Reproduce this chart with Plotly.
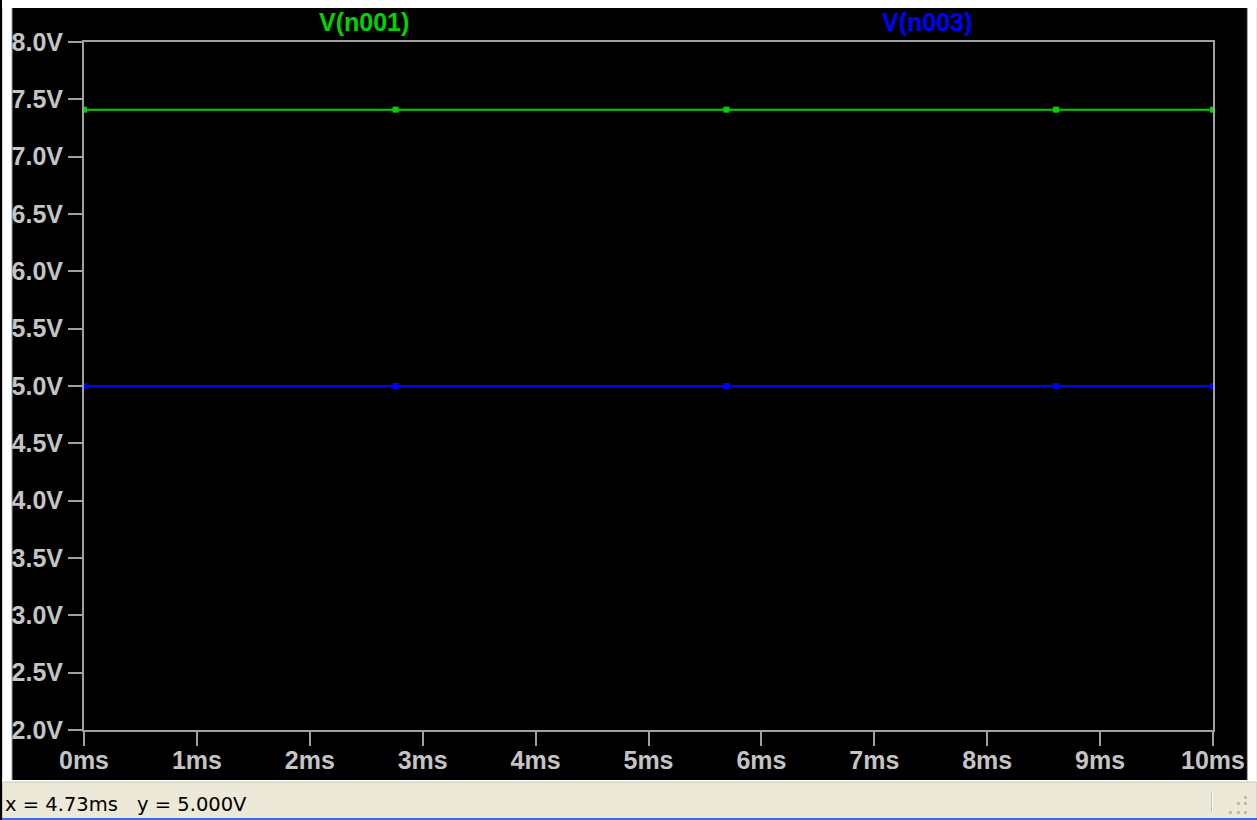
import plotly.graph_objects as go

# Transient simulation results (time in ms, node voltages in V)
t_ms = [0, 2.76, 5.69, 8.61, 10]
v_n001 = [7.41, 7.41, 7.41, 7.41, 7.41]
v_n003 = [5.0, 5.0, 5.0, 5.0, 5.0]

x_ticks = [0, 1, 2, 3, 4, 5, 6, 7, 8, 9, 10]
y_ticks = [2.0, 2.5, 3.0, 3.5, 4.0, 4.5, 5.0, 5.5, 6.0, 6.5, 7.0, 7.5, 8.0]

cursor_x = "x = 4.73ms"
cursor_y = "y = 5.000V"

W, H = 1257, 820
ML, MR, MT, MB = 82, 44, 42, 90
PW, PH = W - ML - MR, H - MT - MB

GREEN = "#00d400"
BLUE = "#0000ff"
AXIS = "#a0a0a0"
LABEL = "#c4c4c4"
FONT = "Liberation Sans"


def px(x):
    return (x - ML) / PW


def py(y):
    return 1 - (y - MT) / PH


fig = go.Figure()
fig.add_trace(go.Scatter(x=t_ms, y=v_n001, mode="lines+markers", name="V(n001)",
                         line=dict(color=GREEN, width=2),
                         marker=dict(symbol="square", size=6, color=GREEN)))
fig.add_trace(go.Scatter(x=t_ms, y=v_n003, mode="lines+markers", name="V(n003)",
                         line=dict(color=BLUE, width=2),
                         marker=dict(symbol="square", size=6, color=BLUE)))

axis_common = dict(showgrid=False, zeroline=False, showline=True, mirror=True,
                   linecolor=AXIS, linewidth=2, ticks="outside", ticklen=14,
                   tickwidth=2, tickcolor=AXIS,
                   tickfont=dict(family=FONT, size=25, color=LABEL, weight="bold"))

fig.update_xaxes(range=[0, 10], tickvals=x_ticks, ticktext=[f"{v}ms" for v in x_ticks],
                 ticklabelstandoff=-7, **axis_common)
fig.update_yaxes(range=[2, 8], tickvals=y_ticks, ticktext=[f"{v:.1f}V" for v in y_ticks],
                 **axis_common)

shapes = [
    # window chrome around the black waveform pane
    dict(type="rect", xref="paper", yref="paper", x0=px(0), x1=px(W), y0=py(0), y1=py(8),
         fillcolor="white", line=dict(width=0), layer="below"),
    dict(type="rect", xref="paper", yref="paper", x0=px(0), x1=px(10), y0=py(0), y1=py(782),
         fillcolor="white", line=dict(width=0), layer="below"),
    dict(type="rect", xref="paper", yref="paper", x0=px(1247), x1=px(W), y0=py(0), y1=py(782),
         fillcolor="white", line=dict(width=0), layer="below"),
    dict(type="line", xref="paper", yref="paper", x0=px(10), x1=px(10), y0=py(8), y1=py(781),
         line=dict(color="#707070", width=1), layer="below"),
    dict(type="line", xref="paper", yref="paper", x0=px(1247.5), x1=px(1247.5), y0=py(8), y1=py(781),
         line=dict(color="#a0a0a0", width=1), layer="below"),
    # status bar
    dict(type="rect", xref="paper", yref="paper", x0=px(0), x1=px(W), y0=py(780), y1=py(818),
         fillcolor="#ece9d8", line=dict(width=0), layer="below"),
    dict(type="line", xref="paper", yref="paper", x0=px(0), x1=px(W), y0=py(780.5), y1=py(780.5),
         line=dict(color="#ffffff", width=1), layer="below"),
    dict(type="line", xref="paper", yref="paper", x0=px(0), x1=px(W), y0=py(782.5), y1=py(782.5),
         line=dict(color="#d8d4c4", width=1), layer="below"),
    dict(type="rect", xref="paper", yref="paper", x0=px(0), x1=px(W), y0=py(818), y1=py(H),
         fillcolor="#3a6ee0", line=dict(width=0), layer="below"),
    dict(type="line", xref="paper", yref="paper", x0=px(1211.5), x1=px(1211.5), y0=py(792), y1=py(813),
         line=dict(color="#c8c4b4", width=1), layer="below"),
    dict(type="line", xref="paper", yref="paper", x0=px(1212.5), x1=px(1212.5), y0=py(792), y1=py(813),
         line=dict(color="#ffffff", width=1), layer="below"),
]

# size grip dots in the status bar corner
for gx, gy in [(1244, 796), (1237, 802), (1244, 802), (1229, 811), (1237, 811), (1244, 811)]:
    shapes.append(dict(type="rect", xref="paper", yref="paper", x0=px(gx), x1=px(gx + 3),
                       y0=py(gy), y1=py(gy + 3), fillcolor="#c0bcac",
                       line=dict(width=0), layer="below"))

annotations = [
    dict(text="V(n001)", xref="paper", yref="paper", x=px(362), y=py(22),
         xanchor="center", yanchor="middle", showarrow=False,
         font=dict(family=FONT, size=25, color=GREEN, weight="bold")),
    dict(text="V(n003)", xref="paper", yref="paper", x=px(926), y=py(22),
         xanchor="center", yanchor="middle", showarrow=False,
         font=dict(family=FONT, size=25, color=BLUE, weight="bold")),
    dict(text=cursor_x, xref="paper", yref="paper", x=px(1), y=py(804),
         xanchor="left", yanchor="middle", showarrow=False,
         font=dict(family="DejaVu Sans", size=19.5, color="#000000")),
    dict(text=cursor_y, xref="paper", yref="paper", x=px(133), y=py(804),
         xanchor="left", yanchor="middle", showarrow=False,
         font=dict(family="DejaVu Sans", size=19.5, color="#000000")),
]

fig.update_layout(
    width=W, height=H,
    margin=dict(l=ML, r=MR, t=MT, b=MB, pad=0),
    paper_bgcolor="black", plot_bgcolor="black",
    showlegend=False,
    shapes=shapes, annotations=annotations,
)

fig.write_html("out.html", config={"displayModeBar": False})
